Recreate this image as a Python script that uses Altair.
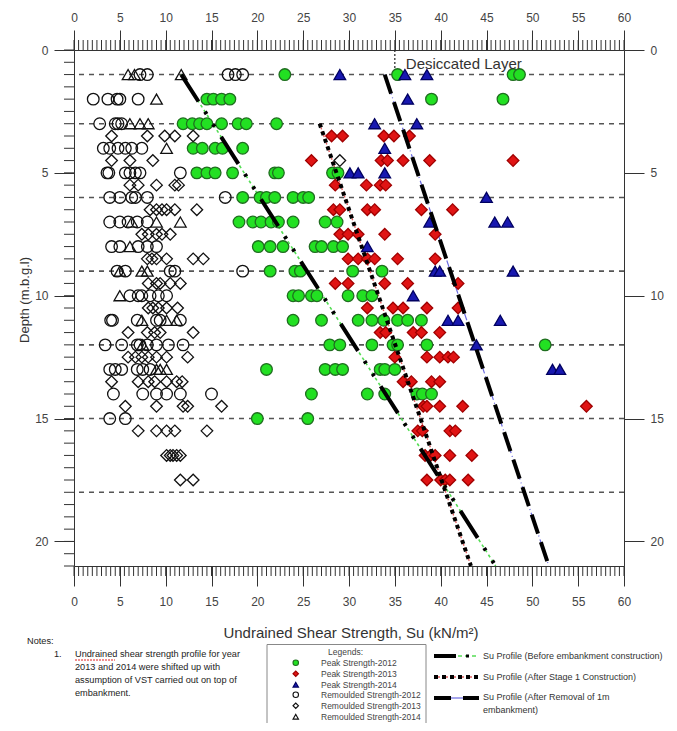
import altair as alt
import pandas as pd

# ---------------- data ----------------
series_names = ["Peak Strength-2012", "Peak Strength-2013", "Peak Strength-2014",
                "Remoulded Strength-2012", "Remoulded Strength-2013", "Remoulded Strength-2014"]

# depth (m) -> list of Su (kN/m2)
peak_2012 = {
    1: [23.0, 35.3, 47.9, 48.6],
    2: [14.5, 15.2, 16.1, 17.0, 39.0, 46.8],
    3: [11.9, 12.9, 13.7, 14.5, 16.1, 17.9, 18.8, 22.1],
    4: [13.0, 14.0, 15.4, 16.2, 18.4],
    5: [13.4, 14.5, 15.4, 17.3, 21.9, 22.3, 28.2, 28.8],
    6: [18.4, 20.3, 21.0, 21.9, 23.9, 25.0, 25.6],
    7: [18.0, 19.5, 20.4, 21.5, 22.3, 23.9, 27.4, 28.7],
    8: [20.1, 21.4, 22.8, 26.3, 27.0, 28.3, 29.3],
    9: [21.4, 24.1, 24.7, 30.4, 33.6],
    10: [23.9, 24.5, 25.9, 26.5, 29.9, 31.5, 32.5],
    11: [23.9, 27.0, 31.0, 32.5, 33.8, 35.3, 36.4, 37.9],
    12: [27.9, 29.0, 32.5, 34.8, 35.3, 38.5, 51.4],
    13: [21.0, 27.4, 28.5, 29.3, 33.4, 33.9, 35.0],
    14: [25.9, 32.0, 33.9, 37.4, 38.0, 39.0],
    15: [20.0, 25.5],
}
peak_2013 = {
    3.5: [28.1, 29.3, 33.8, 34.9, 36.6],
    4.5: [25.9, 33.5, 34.2, 35.9, 38.8, 47.9],
    5.5: [28.5, 31.9, 33.4, 34.0],
    6.5: [28.3, 29.0, 32.0, 32.8, 37.9, 41.3],
    7.5: [29.0, 29.9, 31.0, 33.9, 39.4],
    8.5: [29.9, 31.0, 32.0, 32.8, 35.3, 39.4],
    9.5: [28.5, 29.9, 33.9, 36.4, 41.9],
    10.5: [32.0, 34.8, 35.9, 38.5, 41.9],
    11.5: [33.4, 34.0, 37.0, 37.9, 39.9],
    12.5: [35.0, 38.5, 39.9, 40.8, 41.4],
    13.5: [35.9, 36.8, 39.0, 39.9],
    14.5: [38.1, 38.5, 39.9, 42.4, 55.9],
    15.5: [37.5, 38.0, 41.0, 41.6],
    16.5: [38.3, 38.9, 39.4, 41.0, 43.4],
    17.5: [38.5, 40.0, 40.5, 41.0, 43.0],
}
peak_2014 = {
    1: [29.0, 36.1, 38.5],
    2: [36.4],
    3: [32.8, 37.4],
    4: [33.9],
    5: [30.1, 31.0, 33.9],
    6: [45.0],
    7: [38.8, 45.9, 47.3],
    8: [32.0],
    9: [39.4, 39.9, 47.9],
    10: [37.0],
    11: [40.8, 41.9, 46.5],
    12: [43.9],
    13: [52.2, 53.0],
}
remoulded_2012 = {
    1: [7.2, 8.0, 16.8, 17.6, 18.4],
    2: [2.1, 3.7, 4.7, 5.0, 7.0],
    3: [2.8, 4.5, 4.8, 5.2],
    4: [3.2, 3.9, 4.8, 5.6, 6.3, 7.4],
    5: [3.6, 3.8, 5.6, 6.1, 6.7, 7.2, 11.6],
    6: [3.9, 5.0, 6.3, 6.7, 8.0, 16.5],
    7: [3.9, 5.0, 5.9, 6.9, 8.0],
    8: [4.1, 5.0, 7.0, 8.0, 9.0],
    9: [4.7, 5.6, 10.5, 11.0, 18.4],
    10: [6.1, 7.0, 7.4, 8.3, 9.2, 10.1],
    11: [4.0, 4.2, 6.9, 9.0, 9.4, 11.6],
    12: [3.4, 5.2, 6.9, 7.2, 8.0, 9.0, 10.3, 11.9],
    13: [3.9, 4.5, 5.2, 6.9, 7.5, 8.3],
    14: [4.3, 7.5, 9.0, 10.1, 11.6, 15.0],
    15: [3.9, 5.6],
}
remoulded_2013 = {
    3.5: [4.1, 8.0, 9.9, 11.0, 13.0],
    4.5: [4.1, 6.1, 8.6, 29.0],
    5.5: [6.1, 7.0, 9.0, 11.0, 11.4],
    6.5: [8.3, 9.0, 9.6, 10.1, 11.0, 13.4],
    7.5: [7.4, 8.1, 9.0, 9.6, 10.5],
    8.5: [8.0, 8.5, 9.0, 10.1, 13.0, 14.1],
    9.5: [8.1, 9.0, 9.4, 10.5, 11.6],
    10.5: [8.1, 8.6, 9.2, 10.1, 11.3],
    11.5: [5.9, 8.0, 8.8, 9.4, 13.0],
    12.5: [5.9, 6.7, 7.4, 8.1, 9.0, 10.1, 12.4],
    13.5: [4.1, 7.0, 8.1, 8.8, 10.1, 11.2, 11.8],
    14.5: [5.6, 9.0, 11.9, 12.4, 16.1],
    15.5: [7.0, 9.0, 10.1, 11.0, 14.5],
    16.5: [10.1, 10.5, 10.8, 11.2, 11.6],
    17.5: [11.6, 13.0],
}
remoulded_2014 = {
    1: [5.9, 6.6, 11.7],
    2: [9.0],
    3: [6.1, 7.2, 8.1],
    4: [10.1],
    7: [6.3, 9.0, 11.6],
    8: [6.1],
    9: [5.0, 7.4, 8.0],
    10: [5.0],
    11: [7.4, 10.1, 11.2],
    12: [7.5],
    13: [9.0, 9.4, 10.1],
}

# Su profiles (two end points each)
before_depth = [1, 21]
before_su = [11.7, 46.0]
stage1_depth = [3, 21]
stage1_su = [26.8, 43.3]
removal_depth = [1, 21]
removal_su = [33.9, 51.8]

guide_depths = [1, 3, 6, 9, 12, 15, 18]
major_x = list(range(0, 61, 5))
major_y = list(range(0, 21, 5))
minor_x = [i * 0.5 for i in range(121)]
minor_y = [i * 0.5 for i in range(43)]

notes_lines = ["Undrained shear strength profile for year",
               "2013 and 2014 were shifted up with",
               "assumption of VST  carried out on top of",
               "embankment."]
profile_labels = ["Su Profile (Before embankment construction)",
                  "Su Profile (After Stage 1 Construction)",
                  ["Su Profile (After Removal of 1m", "embankment)"]]

# ---------------- tables ----------------
def rows(name, d):
    return [{"series": name, "depth": k, "su": v} for k, vals in d.items() for v in vals]

draw_order = [(remoulded_2012, 3), (remoulded_2013, 4), (remoulded_2014, 5),
              (peak_2012, 0), (peak_2013, 1), (peak_2014, 2)]
pts = pd.DataFrame(sum([rows(series_names[i], d) for d, i in draw_order], []))

def prof(d, s):
    return pd.DataFrame({"depth": d, "su": s})

W, H = 550, 516
small = "Liberation Sans, Arial, sans-serif"
sans = "Liberation Sans, Arial, sans-serif"

xs = alt.Scale(domain=[0, 60], nice=False, zero=False)
ys = alt.Scale(domain=[0, 21], nice=False, zero=False, reverse=True)

ax_common = dict(grid=False, title=None, labelFont=sans, labelFontSize=12, labelColor="#444",
                 domainColor="#333", tickColor="#333", labelFlush=False, labelOverlap=False,
                 tickSize=20)

one = pd.DataFrame({"su": [0.0], "depth": [0.0]})

# horizontal dashed guides
hguides = alt.Chart(pd.DataFrame({"depth": guide_depths})).mark_rule(
    color="#555", strokeWidth=1.6, strokeDash=[5, 5]).encode(
    y=alt.Y("depth:Q", scale=ys, axis=None))

# desiccated layer marker
des = alt.Chart(pd.DataFrame({"su": [35], "d0": [0.0], "d1": [0.9]})).mark_rule(
    color="#222", strokeWidth=1.2, strokeDash=[2, 2]).encode(
    x=alt.X("su:Q", scale=xs, axis=None), y=alt.Y("d0:Q", scale=ys, axis=None), y2="d1:Q")
des_text = alt.Chart(pd.DataFrame({"su": [36.2], "depth": [0.55], "t": ["Desiccated  Layer"]})).mark_text(
    align="left", baseline="middle", font=sans, fontSize=15, color="#333").encode(
    x=alt.X("su:Q", scale=xs, axis=None), y=alt.Y("depth:Q", scale=ys, axis=None), text="t:N")

def pline(df, **kw):
    return alt.Chart(df).mark_line(**kw).encode(
        x=alt.X("su:Q", scale=xs, axis=None), y=alt.Y("depth:Q", scale=ys, axis=None),
        order="depth:Q")

under = [
    pline(prof(before_depth, before_su), color="#55dd55", strokeWidth=1.6, strokeDash=[3, 3]),
    pline(prof(stage1_depth, stage1_su), color="#e06060", strokeWidth=1.4, strokeDash=[2, 2]),
    pline(prof(removal_depth, removal_su), color="#6a6ae0", strokeWidth=1.2, strokeDash=[7, 3, 1, 3]),
]
over = [
    pline(prof(before_depth, before_su), color="black", strokeWidth=4, strokeDash=[32, 12, 3, 12, 3, 12]),
    pline(prof(stage1_depth, stage1_su), color="black", strokeWidth=4, strokeDash=[4, 4]),
    pline(prof(removal_depth, removal_su), color="black", strokeWidth=4, strokeDash=[20, 9]),
]

leg = alt.Legend(title="Legends:", orient="none", legendX=192.5, legendY=594, direction="vertical",
                 titleFont=small, titleFontSize=8.5, titleFontWeight="normal", titleColor="#444",
                 titleAnchor="middle", titlePadding=2,
                 labelFont=small, labelFontSize=8.5, labelColor="#444", labelOffset=21,
                 symbolOffset=21, symbolSize=30, symbolStrokeWidth=1.1,
                 padding=4, rowPadding=0, strokeColor="#888", fillColor="white")

points = alt.Chart(pts).mark_point(size=135, strokeWidth=1.3, opacity=1).encode(
    x=alt.X("su:Q", scale=xs, axis=alt.Axis(orient="bottom", values=major_x, labelPadding=10, **ax_common)),
    y=alt.Y("depth:Q", scale=ys, axis=alt.Axis(orient="left", values=major_y, labelPadding=6, **ax_common)),
    shape=alt.Shape("series:N", scale=alt.Scale(domain=series_names,
                    range=["circle", "diamond", "triangle-up", "circle", "diamond", "triangle-up"]), legend=leg),
    fill=alt.Fill("series:N", scale=alt.Scale(domain=series_names,
                  range=["#22e022", "#e01414", "#1818b0", "transparent", "transparent", "transparent"]), legend=leg),
    stroke=alt.Stroke("series:N", scale=alt.Scale(domain=series_names,
                      range=["#1f6e1f", "#a00000", "#000060", "#111111", "#111111", "#111111"]), legend=leg),
)

# top / right axes
anchor = alt.Chart(one).mark_point(opacity=0).encode(
    x=alt.X("su:Q", scale=xs, axis=alt.Axis(orient="top", values=major_x, labelPadding=6, **ax_common)),
    y=alt.Y("depth:Q", scale=ys, axis=alt.Axis(orient="right", values=major_y, labelPadding=6, **ax_common)),
)

# minor ticks
mtx = pd.DataFrame({"su": minor_x})
mty = pd.DataFrame({"depth": minor_y})
tick_top = alt.Chart(mtx).mark_rule(color="#333", strokeWidth=1).encode(
    x=alt.X("su:Q", scale=xs, axis=None), y=alt.value(0), y2=alt.value(-10))
tick_bot = alt.Chart(mtx).mark_rule(color="#333", strokeWidth=1).encode(
    x=alt.X("su:Q", scale=xs, axis=None), y=alt.value(H), y2=alt.value(H + 10))
tick_left = alt.Chart(mty).mark_rule(color="#333", strokeWidth=1).encode(
    y=alt.Y("depth:Q", scale=ys, axis=None), x=alt.value(0), x2=alt.value(-10))

# titles
xtitle = alt.Chart(one).mark_text(text="Undrained Shear Strength, Su (kN/m²)", font=sans, fontSize=15,
                                  color="#333", align="center", baseline="middle").encode(
    x=alt.value(277), y=alt.value(583))
ytitle = alt.Chart(one).mark_text(text="Depth (m.b.g.l)", font=sans, fontSize=13, color="#333",
                                  angle=270, align="center", baseline="middle").encode(
    x=alt.value(-49), y=alt.value(250))

# notes
nfs = 9.2
notes_head = alt.Chart(one).mark_text(text="Notes:", font=small, fontSize=nfs, color="#222",
                                      align="left", baseline="top").encode(x=alt.value(-47), y=alt.value(587))
notes_num = alt.Chart(one).mark_text(text="1.", font=small, fontSize=nfs, color="#222",
                                     align="left", baseline="top").encode(x=alt.value(-20), y=alt.value(600))
notes_body = alt.Chart(one).mark_text(text=notes_lines, font=small, fontSize=nfs, color="#222",
                                      align="left", baseline="top", lineHeight=13).encode(
    x=alt.value(1), y=alt.value(600))
squiggle = alt.Chart(one).mark_rule(color="#e02020", strokeWidth=1, strokeDash=[2, 1]).encode(
    x=alt.value(1), x2=alt.value(41), y=alt.value(610))

# line-style legend
def seg(x1, x2, y, **kw):
    return alt.Chart(one).mark_rule(**kw).encode(x=alt.value(x1), x2=alt.value(x2), y=alt.value(y))

ly = [606, 627, 648]
lsamples = [
    seg(360, 382, ly[0], color="black", strokeWidth=4),
    seg(384, 404, ly[0], color="#55dd55", strokeWidth=1.6, strokeDash=[4, 3]),
    seg(392, 395, ly[0], color="black", strokeWidth=3),
    seg(360, 404, ly[1], color="#e06060", strokeWidth=1.4, strokeDash=[2, 2]),
    seg(360, 404, ly[1], color="black", strokeWidth=4, strokeDash=[4, 4]),
    seg(360, 377, ly[2], color="black", strokeWidth=4),
    seg(377, 389, ly[2], color="#6a6ae0", strokeWidth=1.2),
    seg(389, 405, ly[2], color="black", strokeWidth=4),
]
lfs = 9
ltexts = [
    alt.Chart(one).mark_text(text=profile_labels[0], font=small, fontSize=lfs, color="#333",
                             align="left", baseline="middle").encode(x=alt.value(409), y=alt.value(ly[0])),
    alt.Chart(one).mark_text(text=profile_labels[1], font=small, fontSize=lfs, color="#333",
                             align="left", baseline="middle").encode(x=alt.value(409), y=alt.value(ly[1])),
    alt.Chart(one).mark_text(text=profile_labels[2], font=small, fontSize=lfs, color="#333",
                             align="left", baseline="top", lineHeight=12.5).encode(x=alt.value(409), y=alt.value(ly[2] - 5)),
]

chart = alt.layer(
    hguides, des, *under, points, *over, des_text, anchor,
    tick_top, tick_bot, tick_left, xtitle, ytitle,
    notes_head, notes_num, notes_body, squiggle, *lsamples, *ltexts,
).resolve_axis(x="independent", y="independent").properties(
    width=W, height=H,
    autosize=alt.AutoSizeParams(type="none"),
    padding={"left": 66, "top": 42, "right": 45, "bottom": 157},
).configure_view(stroke=None).configure(background="white")

chart.save("out.html", embed_options={"renderer": "svg", "actions": False})
